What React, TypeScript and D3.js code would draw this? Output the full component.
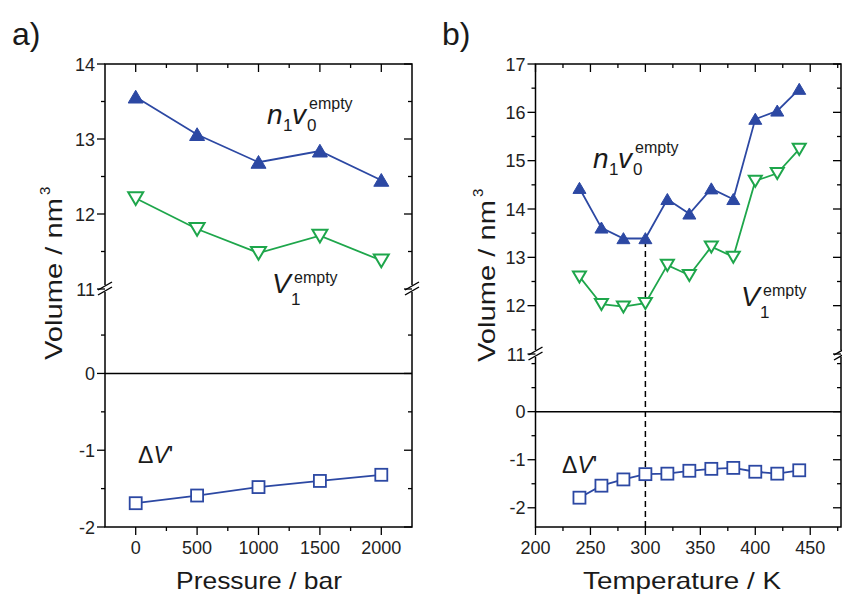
import React from "react";
import { scaleLinear, line } from "d3";

// panel a: pressure series
const pressure = [0, 500, 1000, 1500, 2000];
const pressN1v0 = [13.56, 13.06, 12.69, 12.84, 12.45];
const pressV1 = [12.21, 11.8, 11.48, 11.71, 11.38];
const pressDV = [-1.69, -1.59, -1.48, -1.4, -1.32];

// panel b: temperature series
const temperature = [240, 260, 280, 300, 320, 340, 360, 380, 400, 420, 440];
const tempN1v0 = [14.43, 13.61, 13.39, 13.39, 14.2, 13.9, 14.42, 14.2, 15.86, 16.03, 16.48];
const tempV1 = [12.6, 12.03, 11.98, 12.05, 12.84, 12.63, 13.22, 13.01, 14.58, 14.74, 15.24];
const tempDV = [-1.79, -1.54, -1.41, -1.3, -1.29, -1.23, -1.19, -1.17, -1.25, -1.29, -1.22];

const pressTicks = [0, 500, 1000, 1500, 2000];
const pressMinor = [250, 750, 1250, 1750];
const tempTicks = [200, 250, 300, 350, 400, 450];
const tempMinor = [225, 275, 325, 375, 425, 475];
const yTicksA = [-2, -1, 0, 11, 12, 13, 14];
const yMinorA = [-1.5, -0.5, 0.5, 11.5, 12.5, 13.5];
const yTicksB = [-2, -1, 0, 11, 12, 13, 14, 15, 16, 17];
const yMinorB = [-1.5, -0.5, 0.5, 1, 11.5, 12.5, 13.5, 14.5, 15.5, 16.5];
const dashedAt = 300;

const BLUE = "#2c48a3";
const GREEN = "#1ea64b";
const FONT = "'Liberation Sans', Arial, sans-serif";

const upTri = (s) => `M0,${-s * 0.45}L${s / 2},${s * 0.4}L${-s / 2},${s * 0.4}Z`;
const downTri = (s) => `M0,${s * 0.45}L${s / 2},${-s * 0.4}L${-s / 2},${-s * 0.4}Z`;

function Panel({ x, y, xs, n1v0, v1, dv, xTicks, xMinor, yTicks, yMinor, breakY, triSize, dashed }) {
  const [x0, x1] = x.range();
  const top = y(y.domain()[3]);
  const bottom = y(y.domain()[0]);
  const mk = (vals) => line()(xs.map((d, i) => [x(d), y(vals[i])]));
  const major = 8;
  const minor = 4;
  const brk = (ax) => (
    <g>
      <rect x={ax - 3} y={breakY - 4} width={6} height={7} fill="#fff" />
      <line x1={ax - 7} y1={breakY + 1} x2={ax + 7} y2={breakY - 7} stroke="#000" strokeWidth={1.4} />
      <line x1={ax - 7} y1={breakY + 6} x2={ax + 7} y2={breakY - 2} stroke="#000" strokeWidth={1.4} />
    </g>
  );
  return (
    <g>
      {dashed != null && (
        <line x1={x(dashed)} x2={x(dashed)} y1={bottom} y2={y(n1v0[xs.indexOf(dashed)])}
          stroke="#000" strokeWidth={1.5} strokeDasharray="6,4" />
      )}
      <line x1={x0} x2={x1} y1={y(0)} y2={y(0)} stroke="#000" strokeWidth={1.5} />
      <rect x={x0} y={top} width={x1 - x0} height={bottom - top} fill="none" stroke="#000" strokeWidth={1.5} />
      {brk(x0)}
      {brk(x1)}
      {xTicks.map((t) => (
        <g key={"xt" + t}>
          <line x1={x(t)} x2={x(t)} y1={bottom} y2={bottom + major} stroke="#000" strokeWidth={1.3} />
          <line x1={x(t)} x2={x(t)} y1={top} y2={top + major} stroke="#000" strokeWidth={1.3} />
          <text x={x(t)} y={554} textAnchor="middle" fontSize={18} fontFamily={FONT} fill="#222">{t}</text>
        </g>
      ))}
      {xMinor.map((t) => (
        <g key={"xm" + t}>
          <line x1={x(t)} x2={x(t)} y1={bottom} y2={bottom + minor} stroke="#000" strokeWidth={1.3} />
          <line x1={x(t)} x2={x(t)} y1={top} y2={top + minor} stroke="#000" strokeWidth={1.3} />
        </g>
      ))}
      {yTicks.map((t) => (
        <g key={"yt" + t}>
          <line x1={x0 - major} x2={x0} y1={y(t)} y2={y(t)} stroke="#000" strokeWidth={1.3} />
          <line x1={x1 - major} x2={x1} y1={y(t)} y2={y(t)} stroke="#000" strokeWidth={1.3} />
          <text x={x0 - 10} y={y(t) + 6.5} textAnchor="end" fontSize={18} fontFamily={FONT} fill="#222">{t}</text>
        </g>
      ))}
      {yMinor.map((t) => (
        <g key={"ym" + t}>
          <line x1={x0 - minor} x2={x0} y1={y(t)} y2={y(t)} stroke="#000" strokeWidth={1.3} />
          <line x1={x1 - minor} x2={x1} y1={y(t)} y2={y(t)} stroke="#000" strokeWidth={1.3} />
        </g>
      ))}
      <path d={mk(n1v0)} fill="none" stroke={BLUE} strokeWidth={1.8} />
      <path d={mk(v1)} fill="none" stroke={GREEN} strokeWidth={1.8} />
      <path d={mk(dv)} fill="none" stroke={BLUE} strokeWidth={1.8} />
      {xs.map((d, i) => (
        <g key={"p" + d}>
          <path d={upTri(triSize)} transform={`translate(${x(d)},${y(n1v0[i])})`} fill={BLUE} stroke={BLUE} strokeWidth={1} />
          <path d={downTri(triSize)} transform={`translate(${x(d)},${y(v1[i])})`} fill="#fff" stroke={GREEN} strokeWidth={2} />
          <rect x={x(d) - 6} y={y(dv[i]) - 6} width={12} height={12} fill="#fff" stroke={BLUE} strokeWidth={1.8} />
        </g>
      ))}
    </g>
  );
}

function N1v0({ x, y }) {
  return (
    <g fontFamily={FONT} fill="#1a1a1a">
      <text x={x} y={y} fontSize={28} fontStyle="italic">n</text>
      <text x={x + 16} y={y + 7} fontSize={17}>1</text>
      <text x={x + 25} y={y} fontSize={28} fontStyle="italic">v</text>
      <text x={x + 40} y={y + 7} fontSize={17}>0</text>
      <text x={x + 42} y={y - 15} fontSize={16}>empty</text>
    </g>
  );
}

function V1({ x, y }) {
  return (
    <g fontFamily={FONT} fill="#1a1a1a">
      <text x={x} y={y} fontSize={28} fontStyle="italic">V</text>
      <text x={x + 19} y={y + 12} fontSize={17}>1</text>
      <text x={x + 22} y={y - 10} fontSize={16}>empty</text>
    </g>
  );
}

function DV({ x, y }) {
  return (
    <text x={x} y={y} fontSize={23} fontFamily={FONT} fill="#1a1a1a">
      Δ<tspan fontStyle="italic">V</tspan>'
    </text>
  );
}

function YTitle({ x, y }) {
  return (
    <g transform={`translate(${x},${y}) rotate(-90)`} fontFamily={FONT} fill="#1a1a1a">
      <text x={0} y={0} fontSize={24} textLength={162} lengthAdjust="spacingAndGlyphs">Volume / nm</text>
      <text x={165} y={-12} fontSize={15}>3</text>
    </g>
  );
}

export default function App() {
  const xa = scaleLinear().domain([-250, 2250]).range([105, 412]);
  const ya = scaleLinear().domain([-2, 1.1, 11, 14]).range([527, 289, 289, 64]);
  const xb = scaleLinear().domain([200, 478]).range([535.5, 841]);
  const yb = scaleLinear().domain([-2.4, 1.2, 11, 17]).range([527, 354, 354, 64]);

  return (
    <svg width={842} height={599} style={{ position: "absolute", left: 0, top: 0, background: "#fff" }}>
      <rect width={842} height={599} fill="#fff" />
      <text x={12} y={45} fontSize={32} fontFamily={FONT} fill="#1a1a1a">a)</text>
      <text x={442} y={45} fontSize={32} fontFamily={FONT} fill="#1a1a1a">b)</text>

      <Panel x={xa} y={ya} xs={pressure} n1v0={pressN1v0} v1={pressV1} dv={pressDV}
        xTicks={pressTicks} xMinor={pressMinor} yTicks={yTicksA} yMinor={yMinorA}
        breakY={289} triSize={15} />
      <Panel x={xb} y={yb} xs={temperature} n1v0={tempN1v0} v1={tempV1} dv={tempDV}
        xTicks={tempTicks} xMinor={tempMinor} yTicks={yTicksB} yMinor={yMinorB}
        breakY={354} triSize={13} dashed={dashedAt} />

      <N1v0 x={267} y={124} />
      <V1 x={272} y={293} />
      <DV x={138} y={463} />
      <N1v0 x={593} y={168} />
      <V1 x={741} y={306} />
      <DV x={562} y={473} />

      <YTitle x={62} y={360} />
      <YTitle x={495} y={362} />

      <text x={259} y={589} textAnchor="middle" fontSize={24} fontFamily={FONT} fill="#1a1a1a"
        textLength={166} lengthAdjust="spacingAndGlyphs">Pressure / bar</text>
      <text x={682} y={589} textAnchor="middle" fontSize={24} fontFamily={FONT} fill="#1a1a1a"
        textLength={198} lengthAdjust="spacingAndGlyphs">Temperature / K</text>
    </svg>
  );
}
